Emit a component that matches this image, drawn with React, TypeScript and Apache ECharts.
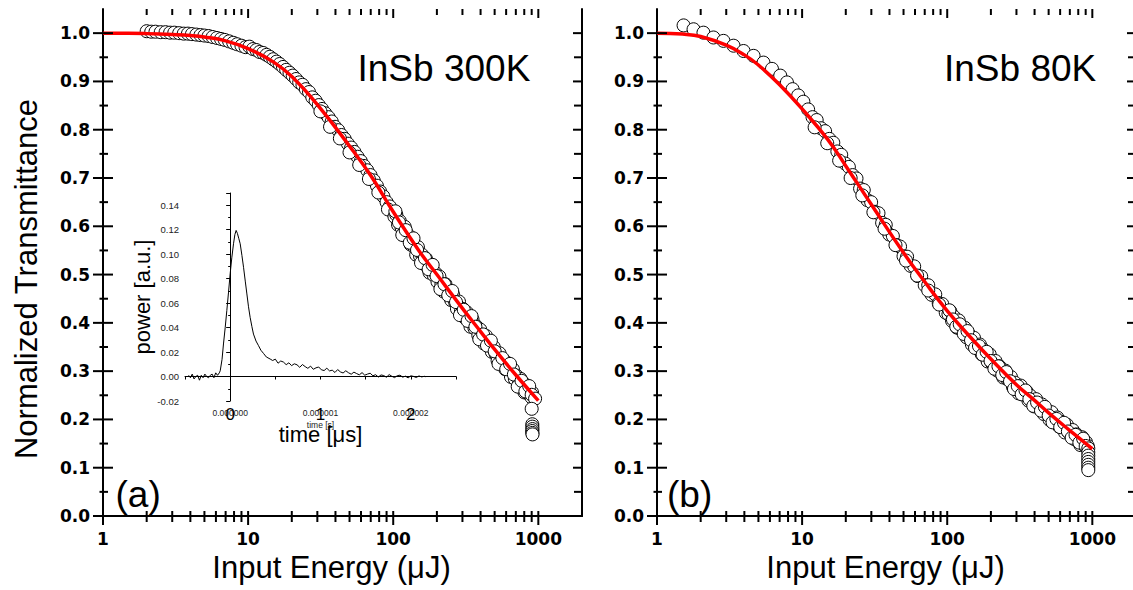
import React, { useEffect, useRef } from 'react';
import * as echarts from 'echarts';

// ---------- data ----------
const energy300 = [
  2.0, 2.15, 2.3, 2.5, 2.7, 2.9, 3.1, 3.35, 3.6, 3.85, 4.1, 4.4, 4.7, 5.0, 5.35, 5.7, 6.1, 6.5, 6.9, 7.4, 7.9, 8.4, 9.0, 9.6,
  10.2, 10.8, 11.4, 12.0, 12.7, 13.4, 14.1, 14.9, 15.7, 16.5, 17.4, 18.3, 19.3, 20.3, 21.4, 22.5, 23.7, 25.0, 26.3, 27.7, 29.2,
  30.7, 32.3, 34.0, 35.8, 37.7, 39.7, 41.8, 44.0, 46.3, 48.7, 51.3, 54.0, 56.8, 59.8, 62.9, 66.2, 69.7, 73.4, 77.2, 81.3, 85.5,
  90.0, 94.7, 99.7,
  31.5, 36.7, 42.9, 50.0, 58.3, 68.0, 79.0, 92.0,
  102, 105, 108, 111, 114, 117, 120, 124, 128, 132, 136, 140, 144, 148, 153, 158, 163, 168, 173, 178, 184, 190, 196, 202, 208,
  215, 222, 229, 236, 243, 251, 259, 267, 275, 284, 293, 302, 311, 321, 331, 341, 352, 363, 374, 386, 398, 410, 423, 436, 450,
  464, 478, 493, 508, 524, 540, 557, 574, 592, 610, 629, 648, 668, 689, 710, 732, 755, 778, 802, 827, 852, 878, 895, 905,
  103.5, 109.5, 115.5, 122, 130, 138, 146, 155.5, 165.5, 175.5, 187, 199, 211.5, 225.5, 239.5, 255, 271, 288.5, 306.5, 326,
  346.5, 368.5, 392, 416.5, 443, 471, 500.5, 532, 565.5, 601, 638.5, 678.5, 721, 766.5, 814.5, 865, 900,
  950, 900, 909, 909, 911, 908, 910, 912,
];
const trans300 = [
  1.004, 1.003, 1.003, 1.002, 1.002, 1.001, 1.001, 1.0, 0.999, 0.999, 0.998, 0.997, 0.996, 0.995, 0.994, 0.992, 0.99, 0.988,
  0.986, 0.983, 0.98, 0.977, 0.974, 0.971,
  0.972, 0.967, 0.965, 0.961, 0.959, 0.955, 0.951, 0.946, 0.941, 0.936, 0.93, 0.924, 0.918, 0.912, 0.905, 0.898, 0.893, 0.884,
  0.878, 0.867, 0.86, 0.851, 0.843, 0.834, 0.826, 0.817, 0.806, 0.799, 0.789, 0.781, 0.771, 0.763, 0.754, 0.744, 0.735, 0.725,
  0.716, 0.706, 0.695, 0.684, 0.672, 0.662, 0.65, 0.641, 0.629,
  0.838, 0.806, 0.782, 0.753, 0.727, 0.698, 0.67, 0.635,
  0.62, 0.624, 0.603, 0.611, 0.598, 0.583, 0.599, 0.579, 0.581, 0.562, 0.572, 0.557, 0.541, 0.557, 0.538, 0.541, 0.522, 0.533,
  0.518, 0.504, 0.52, 0.499, 0.503, 0.485, 0.496, 0.48, 0.465, 0.48, 0.462, 0.466, 0.447, 0.458, 0.443, 0.429, 0.444, 0.424,
  0.429, 0.411, 0.422, 0.407, 0.392, 0.407, 0.389, 0.393, 0.374, 0.386, 0.371, 0.357, 0.373, 0.353, 0.358, 0.34, 0.35, 0.336,
  0.322, 0.337, 0.319, 0.323, 0.304, 0.317, 0.302, 0.288, 0.304, 0.284, 0.29, 0.272, 0.284, 0.269, 0.256, 0.271, 0.254, 0.258,
  0.246, 0.256,
  0.631, 0.608, 0.582, 0.592, 0.566, 0.575, 0.551, 0.524, 0.534, 0.511, 0.52, 0.497, 0.47, 0.48, 0.457, 0.466, 0.443, 0.416,
  0.427, 0.404, 0.414, 0.392, 0.366, 0.376, 0.353, 0.363, 0.341, 0.315, 0.327, 0.304, 0.315, 0.293, 0.268, 0.28, 0.258, 0.269,
  0.251,
  0.243, 0.222, 0.19, 0.185, 0.18, 0.176, 0.172, 0.169,
];

const energy80 = [
  1.525, 1.786, 2.09, 2.45, 2.87, 3.37, 3.95, 4.63, 5.42, 6.2, 7.07, 7.86, 8.6, 9.4, 10.2,
  11.0, 11.8, 12.6, 13.5, 14.4, 15.4, 16.4, 17.5, 18.6, 19.8, 21.0, 22.3, 23.7, 25.1, 26.6, 28.2, 29.9, 31.7, 33.6, 35.6, 37.7,
  39.9, 42.2, 44.7, 47.3, 50.0, 52.9, 56.0, 59.2, 62.6, 66.2, 70.0, 74.0, 78.2, 82.7, 87.4, 92.4, 97.7,
  12.2, 14.9, 18.0, 21.6, 26.0, 31.0, 37.0, 44.0, 52.0, 62.0, 74.0, 88.0,
  102, 105, 108, 111, 114, 117, 120, 124, 128, 132, 136, 140, 144, 148, 153, 158, 163, 168, 173, 178, 184, 190, 196, 202, 208,
  215, 222, 229, 236, 243, 251, 259, 267, 275, 284, 293, 302, 311, 321, 331, 341, 352, 363, 374, 386, 398, 410, 423, 436, 450,
  464, 478, 493, 508, 524, 540, 557, 574, 592, 610, 629, 648, 668, 689, 710, 732, 755, 778, 802, 827, 852, 878, 905, 930,
  103.5, 109.5, 115.5, 122, 130, 138, 146, 155.5, 165.5, 175.5, 187, 199, 211.5, 225.5, 239.5, 255, 271, 288.5, 306.5, 326,
  346.5, 368.5, 392, 416.5, 443, 471, 500.5, 532, 565.5, 601, 638.5, 678.5, 721, 766.5, 814.5, 865, 900,
  938, 938, 938, 938, 938, 938, 938, 938,
];
const trans80 = [
  1.016, 1.008, 1.001, 0.991, 0.984, 0.974, 0.963, 0.953, 0.939, 0.926, 0.912, 0.898, 0.884, 0.871, 0.858,
  0.842, 0.826, 0.82, 0.803, 0.797, 0.781, 0.773, 0.755, 0.748, 0.73, 0.723, 0.706, 0.699, 0.678, 0.675, 0.654, 0.65, 0.63,
  0.627, 0.607, 0.603, 0.583, 0.58, 0.561, 0.558, 0.538, 0.537, 0.518, 0.517, 0.497, 0.496, 0.478, 0.478, 0.458, 0.459, 0.441,
  0.439, 0.421,
  0.805, 0.772, 0.736, 0.7, 0.664, 0.629, 0.595, 0.561, 0.529, 0.498, 0.467, 0.438,
  0.418, 0.424, 0.404, 0.413, 0.404, 0.39, 0.405, 0.387, 0.385, 0.39, 0.37, 0.378, 0.369, 0.355, 0.369, 0.352, 0.349, 0.355,
  0.335, 0.344, 0.335, 0.32, 0.335, 0.318, 0.316, 0.321, 0.301, 0.31, 0.301, 0.287, 0.301, 0.284, 0.282, 0.288, 0.267, 0.276,
  0.267, 0.254, 0.27, 0.253, 0.252, 0.258, 0.239, 0.249, 0.24, 0.227, 0.242, 0.226, 0.224, 0.231, 0.211, 0.221, 0.213, 0.199,
  0.215, 0.199, 0.198, 0.204, 0.185, 0.195, 0.187, 0.173, 0.189, 0.173, 0.172, 0.178, 0.159, 0.169, 0.161, 0.147, 0.163, 0.147,
  0.153, 0.145,
  0.426, 0.407, 0.392, 0.397, 0.377, 0.383, 0.364, 0.348, 0.352, 0.334, 0.34, 0.321, 0.305, 0.31, 0.292, 0.298, 0.279, 0.263,
  0.269, 0.252, 0.26, 0.242, 0.228, 0.235, 0.218, 0.226, 0.208, 0.194, 0.201, 0.184, 0.193, 0.175, 0.162, 0.168, 0.152, 0.16,
  0.145,
  0.14, 0.132, 0.125, 0.118, 0.112, 0.106, 0.1, 0.095,
];

const fitEnergy = [1, 1.5, 2, 3, 4, 5, 7, 10, 15, 20, 30, 50, 70, 100, 150, 200, 300, 400, 500, 700, 1000];
const fit300 = [1.0, 0.9998, 0.999, 0.997, 0.995, 0.992, 0.984, 0.968, 0.94, 0.91, 0.852, 0.766, 0.705, 0.63, 0.55, 0.5, 0.43, 0.382, 0.345, 0.292, 0.239];
const fit80 = [1.0, 0.998, 0.993, 0.975, 0.955, 0.934, 0.893, 0.843, 0.78, 0.725, 0.645, 0.545, 0.485, 0.425, 0.365, 0.325, 0.272, 0.2395, 0.2135, 0.177, 0.139];

// inset: laser pulse, time in microseconds
const pulseTime = [
  -0.46, -0.44, -0.42, -0.4, -0.38, -0.36, -0.34, -0.32, -0.3, -0.28, -0.26, -0.24, -0.22, -0.2, -0.18, -0.16, -0.14,
  -0.12, -0.11, -0.09, -0.074, -0.055, -0.037, -0.018, 0.0, 0.018, 0.037, 0.052, 0.066, 0.08, 0.095, 0.111, 0.13, 0.148,
  0.167, 0.185, 0.203, 0.221, 0.24, 0.258, 0.286, 0.314, 0.34, 0.369, 0.4, 0.443,
  0.47, 0.5, 0.53, 0.56, 0.59, 0.62, 0.65, 0.68, 0.71, 0.74, 0.77, 0.8, 0.83, 0.86, 0.89, 0.92, 0.95, 0.98, 1.01, 1.04, 1.07,
  1.1, 1.13, 1.16, 1.19, 1.22, 1.25, 1.28, 1.31, 1.34, 1.37, 1.4, 1.43, 1.46, 1.49, 1.52, 1.55, 1.58, 1.61, 1.64, 1.67, 1.7,
  1.73, 1.76, 1.79, 1.82, 1.85, 1.88, 1.91, 1.94, 1.97, 2.0, 2.03, 2.06, 2.09, 2.12, 2.15, 2.16,
];
const pulsePower = [
  0.001, -0.001, 0.002, -0.002, 0.0, 0.001, -0.003, 0.001, -0.001, 0.002, 0.0, -0.001, 0.001, 0.002, -0.001, 0.003, 0.001,
  0.003, 0.0047, 0.014, 0.0266, 0.04, 0.0539, 0.069, 0.084, 0.097, 0.1085, 0.116, 0.1194, 0.117, 0.113, 0.1085, 0.099, 0.0893,
  0.078, 0.0675, 0.057, 0.0484, 0.041, 0.0347, 0.029, 0.0252, 0.0215, 0.0189, 0.016, 0.0143,
  0.0131, 0.0142, 0.0109, 0.0127, 0.0118, 0.0097, 0.0112, 0.0089, 0.0104, 0.0096, 0.0075, 0.0098, 0.0081, 0.0067, 0.0085,
  0.0059, 0.0071, 0.0078, 0.0055, 0.0049, 0.0068, 0.0046, 0.0052, 0.0033, 0.0057, 0.0038, 0.0029, 0.0047, 0.0031, 0.0019,
  0.0036, 0.0024, 0.0014, 0.0032, 0.0011, 0.002, 0.0027, 0.0006, 0.0015, -0.0004, 0.0013, 0.0008, -0.0006, 0.0016, 0.0002,
  -0.0009, 0.0007, 0.0011, -0.0005, 0.0003, -0.0011, 0.0006, 0.0001, -0.0008, 0.0005, -0.0003, 0.0002, -0.0002,
];

const xTickValues = [1, 2, 3, 4, 5, 6, 7, 8, 9, 10, 20, 30, 40, 50, 60, 70, 80, 90, 100, 200, 300, 400, 500, 600, 700, 800, 900, 1000];
const xMajorTicks = [1, 10, 100, 1000];
const yTickValues = [0, 0.05, 0.1, 0.15, 0.2, 0.25, 0.3, 0.35, 0.4, 0.45, 0.5, 0.55, 0.6, 0.65, 0.7, 0.75, 0.8, 0.85, 0.9, 0.95, 1.0];
const sampleLabels = ['InSb 300K', 'InSb 80K'];
const panelLabels = ['(a)', '(b)'];
const xTitle = 'Input Energy (μJ)';
const yTitle = 'Normalized Transmittance';

const X_MIN = 1;
const X_MAX = 2000;
const Y_MIN = 0;
const Y_MAX = 1.05;

const BLACK = '#000';
const SANS = '"Liberation Sans", Arial, sans-serif';
const TICKFONT = '"DejaVu Sans", sans-serif';

function panelAxes(gridIndex: number) {
  const xb = {
    gridIndex, type: 'log', logBase: 10, min: X_MIN, max: X_MAX, position: 'bottom',
    axisLine: { show: true, lineStyle: { color: BLACK, width: 2 } },
    axisTick: { show: false }, splitLine: { show: false },
    axisLabel: {
      interval: 0, margin: 14, fontFamily: TICKFONT, fontWeight: 'bold', fontSize: 17, color: BLACK,
      formatter: (v: number) => (v < 1500 ? String(Math.round(v)) : ''),
    },
    name: xTitle, nameLocation: 'middle', nameGap: 33,
    nameTextStyle: { fontFamily: SANS, fontSize: 31, color: BLACK, padding: [0, 22, 0, 0] },
  };
  const xt = {
    gridIndex, type: 'log', logBase: 10, min: X_MIN, max: X_MAX, position: 'top',
    axisLine: { show: true, lineStyle: { color: BLACK, width: 2 } },
    axisTick: { show: false }, axisLabel: { show: false }, splitLine: { show: false },
  };
  const yl = {
    gridIndex, type: 'value', min: Y_MIN, max: Y_MAX, interval: 0.1, position: 'left',
    axisLine: { show: true, lineStyle: { color: BLACK, width: 2 } },
    axisTick: { show: false }, splitLine: { show: false },
    axisLabel: {
      interval: 0, margin: 13, fontFamily: TICKFONT, fontWeight: 'bold', fontSize: 17, color: BLACK,
      formatter: (v: number) => (v > 1.001 ? '' : v.toFixed(1)),
    },
  };
  const yr = {
    gridIndex, type: 'value', min: Y_MIN, max: Y_MAX, position: 'right',
    axisLine: { show: true, lineStyle: { color: BLACK, width: 2 } },
    axisTick: { show: false }, axisLabel: { show: false }, splitLine: { show: false },
  };
  return { x: [xb, xt], y: [yl, yr] };
}

function tickSeries(axisIndex: number) {
  const style = { stroke: BLACK, lineWidth: 2 };
  return [
    {
      type: 'custom', xAxisIndex: axisIndex, yAxisIndex: axisIndex, silent: true, clip: false, z: 5,
      data: xTickValues.map((v) => [v, Y_MIN]),
      renderItem: (params: any, api: any) => {
        const v = api.value(0);
        const major = xMajorTicks.indexOf(Math.round(v)) >= 0;
        const b = api.coord([v, Y_MIN]);
        const t = api.coord([v, Y_MAX]);
        return {
          type: 'group',
          children: [
            { type: 'line', shape: { x1: b[0], y1: b[1] - 5, x2: b[0], y2: b[1] + (major ? 9 : 6) }, style },
            { type: 'line', shape: { x1: t[0], y1: t[1], x2: t[0], y2: t[1] + (major ? 9 : 6) }, style },
          ],
        };
      },
    },
    {
      type: 'custom', xAxisIndex: axisIndex, yAxisIndex: axisIndex, silent: true, clip: false, z: 5,
      data: yTickValues.map((v) => [X_MIN, v]),
      renderItem: (params: any, api: any) => {
        const v = api.value(1);
        const major = Math.abs(v * 10 - Math.round(v * 10)) < 1e-6;
        const l = api.coord([X_MIN, v]);
        const r = api.coord([X_MAX, v]);
        return {
          type: 'group',
          children: [
            { type: 'line', shape: { x1: l[0] - (major ? 10 : 3.5), y1: l[1], x2: l[0] + (major ? 10 : 5), y2: l[1] }, style },
            { type: 'line', shape: { x1: r[0] - (major ? 9 : 8), y1: r[1], x2: r[0], y2: r[1] }, style },
          ],
        };
      },
    },
  ];
}

function dataSeries(axisIndex: number, xs: number[], ys: number[], fit: number[]) {
  return [
    {
      type: 'scatter', xAxisIndex: axisIndex, yAxisIndex: axisIndex, z: 2,
      data: xs.map((x, i) => [x, ys[i]]),
      symbol: 'circle', symbolSize: 13,
      itemStyle: { color: '#fff', borderColor: BLACK, borderWidth: 1, opacity: 1 },
    },
    {
      type: 'line', xAxisIndex: axisIndex, yAxisIndex: axisIndex, z: 3,
      data: fitEnergy.map((x, i) => [x, fit[i]]),
      symbol: 'none', smooth: 0.45,
      lineStyle: { color: '#ff0000', width: 3.5 },
    },
  ];
}

const isWhole = (v: number) => Math.abs(v - Math.round(v)) < 1e-6 && Math.round(v) >= 0;

export default function App() {
  const ref = useRef<HTMLDivElement>(null);
  useEffect(() => {
    if (!ref.current) return;
    const chart = echarts.init(ref.current, undefined, { renderer: 'svg' });
    const a = panelAxes(0);
    const b = panelAxes(1);
    const insetSmallX = {
      gridIndex: 2, type: 'value', min: -0.5, max: 2.5, interval: 0.5, position: 'bottom',
      axisLine: { show: true, lineStyle: { color: BLACK, width: 1 } },
      axisTick: { show: true, length: 3, lineStyle: { color: BLACK, width: 1 } },
      splitLine: { show: false },
      axisLabel: {
        interval: 0, margin: 7, fontFamily: SANS, fontSize: 8.5, color: '#222',
        formatter: (v: number) => (isWhole(v) ? (Math.round(v) * 1e-6).toFixed(6) : ''),
      },
      name: 'time [s]', nameLocation: 'middle', nameGap: 19,
      nameTextStyle: { fontFamily: SANS, fontSize: 8.5, color: '#222' },
    };
    const insetBigX = {
      gridIndex: 3, type: 'value', min: -0.5, max: 2.5, interval: 0.5, position: 'bottom',
      axisLine: { show: false }, axisTick: { show: false }, splitLine: { show: false },
      axisLabel: {
        interval: 0, margin: 5, fontFamily: SANS, fontSize: 17, color: BLACK,
        formatter: (v: number) => (isWhole(v) ? String(Math.round(v)) : ''),
      },
      name: 'time [μs]', nameLocation: 'middle', nameGap: 21,
      nameTextStyle: { fontFamily: SANS, fontSize: 22, color: BLACK },
    };
    const insetY = {
      gridIndex: 2, type: 'value', min: -0.02, max: 0.15, interval: 0.02, position: 'left',
      axisLine: { show: true, lineStyle: { color: BLACK, width: 1 } },
      axisTick: { show: true, length: 4, lineStyle: { color: BLACK, width: 1 } },
      minorTick: { show: true, splitNumber: 2, length: 2, lineStyle: { color: BLACK, width: 1 } },
      splitLine: { show: false }, minorSplitLine: { show: false },
      axisLabel: {
        interval: 0, margin: 6, fontFamily: SANS, fontSize: 9.5, color: '#222',
        formatter: (v: number) => (v > 0.145 ? '' : v.toFixed(2)),
      },
      name: 'power [a.u.]', nameLocation: 'middle', nameGap: 22,
      nameTextStyle: { fontFamily: SANS, fontSize: 22, color: BLACK },
    };
    const insetHiddenY = { gridIndex: 3, type: 'value', min: -0.02, max: 0.15, show: false };

    const option: any = {
      animation: false,
      backgroundColor: '#fff',
      textStyle: { fontFamily: SANS },
      grid: [
        { left: 103, top: 9, width: 479, height: 507, outerBoundsMode: 'none' },
        { left: 657, top: 9, width: 479, height: 507, outerBoundsMode: 'none' },
        { left: 185, top: 193, width: 271, height: 208, outerBoundsMode: 'none' },
        { left: 185, top: 193, width: 271, height: 208, outerBoundsMode: 'none' },
      ],
      xAxis: [a.x[0], a.x[1], b.x[0], b.x[1], insetSmallX, insetBigX],
      yAxis: [a.y[0], a.y[1], b.y[0], b.y[1], insetY, insetHiddenY],
      series: [
        ...dataSeries(0, energy300, trans300, fit300),
        ...dataSeries(2, energy80, trans80, fit80),
        ...tickSeries(0),
        ...tickSeries(2),
        {
          type: 'line', xAxisIndex: 4, yAxisIndex: 4, z: 4,
          data: pulseTime.map((t, i) => [t, pulsePower[i]]),
          symbol: 'none', lineStyle: { color: BLACK, width: 1 },
        },
      ],
      graphic: [
        {
          type: 'text', x: 26, y: 279, rotation: Math.PI / 2,
          style: { text: yTitle, fontFamily: SANS, fontSize: 31, fill: BLACK, align: 'center', verticalAlign: 'middle' },
        },
        {
          type: 'text', x: 357.5, y: 68.5,
          style: { text: sampleLabels[0], fontFamily: SANS, fontSize: 37, fill: BLACK, align: 'left', verticalAlign: 'middle' },
        },
        {
          type: 'text', x: 944, y: 68.5,
          style: { text: sampleLabels[1], fontFamily: SANS, fontSize: 37, fill: BLACK, align: 'left', verticalAlign: 'middle' },
        },
        {
          type: 'text', x: 115.5, y: 494.5,
          style: { text: panelLabels[0], fontFamily: SANS, fontSize: 37, fill: BLACK, align: 'left', verticalAlign: 'middle' },
        },
        {
          type: 'text', x: 667, y: 494.5,
          style: { text: panelLabels[1], fontFamily: SANS, fontSize: 37, fill: BLACK, align: 'left', verticalAlign: 'middle' },
        },
      ],
    };
    chart.setOption(option);
    return () => chart.dispose();
  }, []);
  return (
    <div
      ref={ref}
      style={{ position: 'absolute', left: 0, top: 0, width: 1133, height: 590, background: '#fff' }}
    />
  );
}
